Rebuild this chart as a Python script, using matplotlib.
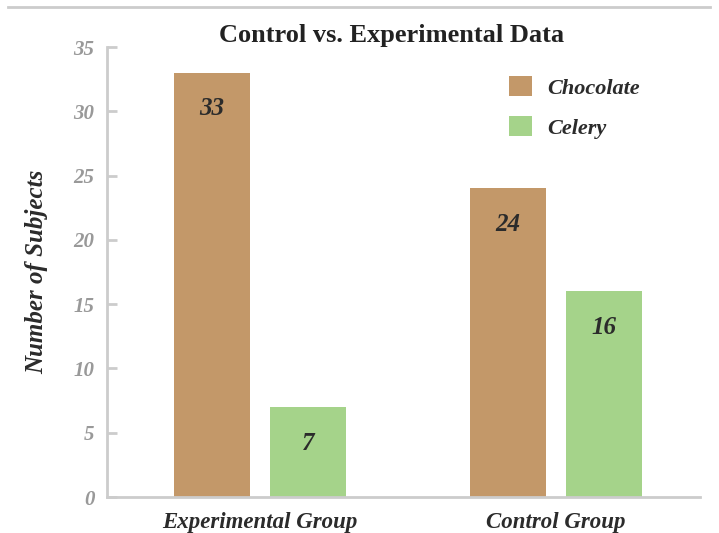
import numpy as np
import matplotlib.pyplot as plt
from matplotlib.lines import Line2D

groups = ["Experimental Group", "Control Group"]
series = ["Chocolate", "Celery"]
chocolate = [33, 24]
celery = [7, 16]
yticks = [0, 5, 10, 15, 20, 25, 30, 35]

colors = {"Chocolate": "#c39869", "Celery": "#a5d38a"}
grid_gray = "#cccccc"
serif = ["Liberation Serif", "DejaVu Serif"]

fig = plt.figure(figsize=(7.19, 5.33), dpi=100)
ax = fig.add_axes([0.1488, 0.0675, 0.8248, 0.8443])

x = np.arange(len(groups))
width = 0.257
offset = 0.162

for vals, name, sign in [(chocolate, "Chocolate", -1), (celery, "Celery", 1)]:
    bars = ax.bar(x + sign * offset, vals, width, color=colors[name], label=name)
    for b, v in zip(bars, vals):
        ax.annotate(str(v), (b.get_x() + b.get_width() / 2, v),
                    xytext=(0, -26), textcoords="offset points",
                    ha="center", va="center", fontsize=18,
                    fontweight="bold", fontstyle="italic", family=serif,
                    color="#2b2b2b")

ax.set_xlim(-0.517, 1.486)
ax.set_ylim(0, 35)
ax.set_yticks(yticks)
ax.set_xticks(x)
ax.set_xticklabels(groups)

for s in ["top", "right"]:
    ax.spines[s].set_visible(False)
for s in ["left", "bottom"]:
    ax.spines[s].set_color(grid_gray)
    ax.spines[s].set_linewidth(2)

ax.tick_params(axis="y", direction="in", length=7, width=2, color=grid_gray,
               pad=9, labelsize=15, labelcolor="#999999")
ax.tick_params(axis="x", length=0, pad=11, labelsize=16.5, labelcolor="#2b2b2b")
for lab in ax.get_yticklabels() + ax.get_xticklabels():
    lab.set_family(serif)
    lab.set_fontweight("bold")
    lab.set_fontstyle("italic")

ax.set_ylabel("Number of Subjects", fontsize=18, fontweight="bold",
              fontstyle="italic", family=serif, color="#2b2b2b", labelpad=18)

fig.text(0.545, 0.933, "Control vs. Experimental Data", ha="center", va="center",
         fontsize=19, fontweight="bold", family=serif, color="#222222")

leg = ax.legend(loc="upper left", bbox_to_anchor=(0.645, 0.98), frameon=False,
                handlelength=1.0, handleheight=1.0, labelspacing=0.8,
                handletextpad=0.7,
                prop={"family": serif, "weight": "bold", "style": "italic", "size": 16})
for t in leg.get_texts():
    t.set_color("#2b2b2b")

fig.add_artist(Line2D([8 / 719, 710 / 719], [1 - 7 / 533, 1 - 7 / 533],
                      color=grid_gray, lw=2))

fig.savefig("out.png", dpi=100)
